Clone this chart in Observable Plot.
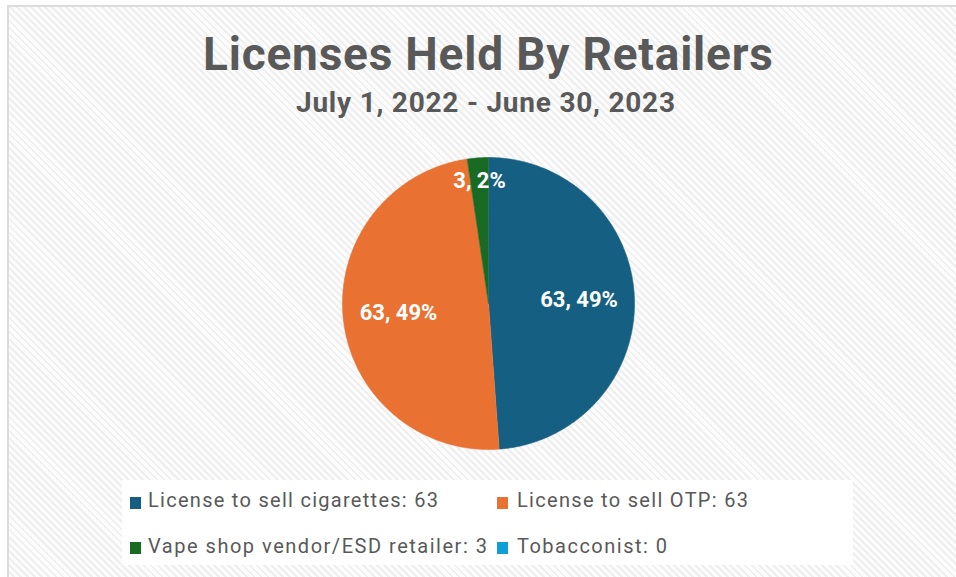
<!DOCTYPE html>
<html>
<head>
<meta charset="utf-8">
<script src="https://cdn.jsdelivr.net/npm/d3@7"></script>
<script src="https://cdn.jsdelivr.net/npm/@observablehq/plot@0.6"></script>
<style>
  html, body { margin: 0; padding: 0; background: #ffffff; overflow: hidden; }
  #page { position: relative; width: 956px; height: 577px; overflow: hidden; }
  #frame {
    position: absolute; left: 7px; top: 5px; width: 990px; height: 610px;
    box-sizing: border-box; border: 2px solid #dcdcdc;
    background: repeating-linear-gradient(45deg, #fcfcfc 0px, #fcfcfc 3px, #efefef 3px, #efefef 5px);
  }
  #legendBox { position: absolute; left: 122px; top: 480px; width: 731px; height: 85px; background: #ffffff; }
  .t { position: absolute; white-space: nowrap; line-height: 1; color: #595959; font-family: Roboto, "Liberation Sans", sans-serif; }
  .sw { position: absolute; width: 11px; height: 12px; }
  #chart { position: absolute; left: 0; top: 0; }
</style>
</head>
<body>
<div id="page">
  <div id="frame"></div>
  <div id="legendBox"></div>
  <div id="chart"></div>
</div>
<script>
// ---- data ----
const title = "Licenses Held By Retailers";
const subtitle = "July 1, 2022 - June 30, 2023";
const categories = ["License to sell cigarettes", "License to sell OTP", "Vape shop vendor/ESD retailer", "Tobacconist"];
const values = [63, 63, 3, 0];
const colors = ["#156082", "#E97132", "#196B24", "#0F9ED5"];

// ---- layout ----
const W = 956, H = 577, cx = 488, cy = 303, R = 146;
const page = document.getElementById("page");

const rows = categories.map((c, i) => ({key: c, value: values[i]}));
const total = d3.sum(values);
const arcs = d3.pie().sort(null).value(d => d.value)(rows);

const polys = [];
const labels = [];
arcs.forEach(p => {
  const span = p.endAngle - p.startAngle;
  if (span <= 0) return;
  const key = p.data.key;
  polys.push({key, x: 0, y: 0});
  const n = Math.max(2, Math.ceil(span / (Math.PI / 360)));
  for (let i = 0; i <= n; i++) {
    const a = p.startAngle + span * i / n;
    polys.push({key, x: Math.sin(a), y: Math.cos(a)});
  }
  const share = p.data.value / total;
  const mid = (p.startAngle + p.endAngle) / 2;
  const r = share < 0.05 ? 0.845 : 0.62;
  labels.push({x: r * Math.sin(mid), y: r * Math.cos(mid), text: `${p.data.value}, ${Math.round(share * 100)}%`});
});

const chart = Plot.plot({
  width: W, height: H,
  margin: 0, marginTop: 0, marginRight: 0, marginBottom: 0, marginLeft: 0,
  x: {type: "linear", domain: [(0 - cx) / R, (W - cx) / R], axis: null},
  y: {type: "linear", domain: [(cy - H) / R, cy / R], axis: null},
  color: {type: "ordinal", domain: categories, range: colors},
  style: {background: "transparent", overflow: "visible"},
  marks: [
    Plot.line(polys, {x: "x", y: "y", z: "key", fill: "key", stroke: "key", strokeWidth: 0.6, curve: "linear"}),
    Plot.text(labels, {x: "x", y: "y", text: "text", fill: "white", fontSize: 22, fontWeight: "bold", fontFamily: "Roboto, 'Liberation Sans', sans-serif"})
  ]
});
document.getElementById("chart").appendChild(chart);

// ---- HTML text helpers ----
function addText(str, x, baseline, size, weight, targetWidth) {
  const el = document.createElement("div");
  el.className = "t";
  el.style.left = x + "px";
  el.style.top = "0px";
  el.style.fontSize = size + "px";
  el.style.fontWeight = weight;
  const span = document.createElement("span");
  span.textContent = str;
  el.appendChild(span);
  const mark = document.createElement("span");
  mark.style.cssText = "display:inline-block;width:0;height:0;vertical-align:baseline";
  el.appendChild(mark);
  page.appendChild(el);
  if (targetWidth) {
    const w = span.getBoundingClientRect().width;
    const ls = (targetWidth - w) / Math.max(1, str.length - 1);
    span.style.letterSpacing = ls + "px";
  }
  const pr = page.getBoundingClientRect();
  const b = mark.getBoundingClientRect().top - pr.top;
  el.style.top = (baseline - b) + "px";
  return el;
}
function addSwatch(color, x, y) {
  const s = document.createElement("div");
  s.className = "sw";
  s.style.left = x + "px";
  s.style.top = y + "px";
  s.style.background = color;
  page.appendChild(s);
}

addText(title, 203, 70, 46, 700, 570);
addText(subtitle, 296, 112, 28, 700, 379);

const legendPos = [[130, 148, 497, 507, 290], [497, 517, 497, 507, 231], [130, 148, 542, 553, 339], [497, 517, 542, 553, 150]];
categories.forEach((c, i) => {
  const [sx, tx, sy, base, tw] = legendPos[i];
  addSwatch(colors[i], sx, sy);
  addText(`${c}: ${values[i]}`, tx, base, 20, 400, tw);
});
</script>
</body>
</html>
